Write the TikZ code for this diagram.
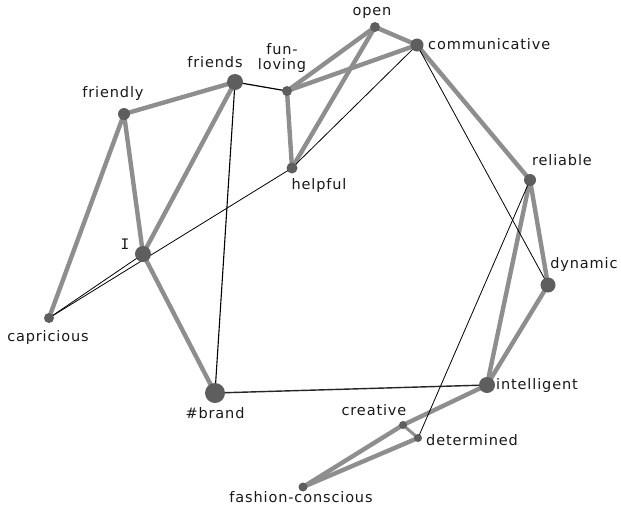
\documentclass[tikz,border=0pt]{standalone}
\usepackage{fontspec}
\setmainfont{DejaVu Sans}[LetterSpace=6]
\newfontfamily\serifI{DejaVu Sans Mono}
\begin{document}
\begin{tikzpicture}[x=1pt,y=-1pt,
  vert/.style={circle,fill=nodegray,draw=none,inner sep=0pt,minimum size=#1},
  vert/.default=10pt,
  lbl/.style={inner sep=0pt,font=\fontsize{14.5}{15.5}\selectfont,text=black!90,align=center},
  strong/.style={draw=edgegray,line width=4.4pt},
  weak/.style={draw=black,line width=0.8pt}]
\definecolor{nodegray}{HTML}{5E5E5E}
\definecolor{edgegray}{HTML}{8E8E8E}
\useasboundingbox (0,0) rectangle (621,509);
\fill[white] (0,0) rectangle (621,509);
% vertices
\coordinate (friends) at (235,82);
\coordinate (friendly) at (124,114);
\coordinate (funloving) at (287,91);
\coordinate (helpful) at (292,168);
\coordinate (open) at (375,27);
\coordinate (comm) at (417,45);
\coordinate (reliable) at (530,180);
\coordinate (dynamic) at (548,285);
\coordinate (I) at (143,254);
\coordinate (capricious) at (49,318);
\coordinate (brand) at (215,393);
\coordinate (intelligent) at (487,385);
\coordinate (creative) at (403,425);
\coordinate (determined) at (418,438);
\coordinate (fashion) at (303,487);
% strong edges
\draw[strong] (friendly) -- (friends);
\draw[strong] (friendly) -- (I);
\draw[strong] (friendly) -- (capricious);
\draw[strong] (friends) -- (I);
\draw[strong] (I) -- (brand);
\draw[strong] (funloving) -- (open);
\draw[strong] (funloving) -- (comm);
\draw[strong] (funloving) -- (helpful);
\draw[strong] (open) -- (helpful);
\draw[strong] (open) -- (comm);
\draw[strong] (comm) -- (reliable);
\draw[strong] (reliable) -- (intelligent);
\draw[strong] (reliable) -- (dynamic);
\draw[strong] (dynamic) -- (intelligent);
\draw[strong] (intelligent) -- (creative);
\draw[strong] (creative) -- (fashion);
\draw[strong] (determined) -- (fashion);
\draw[strong,line width=3pt] (creative) -- (determined);
% weak edges
\draw[weak,line width=1.2pt] (friends) -- (funloving);
\draw[weak,line width=1.1pt] (friends) -- (brand);
\draw[weak,line width=1.4pt,draw=black!85] (brand) -- (intelligent);
\draw[weak] (capricious) -- (I);
\draw[weak] (capricious) -- (helpful);
\draw[weak] (helpful) -- (comm);
\draw[weak] (comm) -- (dynamic);
\draw[weak] (reliable) -- (determined);
% vertex dots
\node[vert=16pt] (vfriends) at (friends) {};
\node[vert=12pt] (vfriendly) at (friendly) {};
\node[vert=10pt] (vfunloving) at (funloving) {};
\node[vert=11pt] (vhelpful) at (helpful) {};
\node[vert=10pt] (vopen) at (open) {};
\node[vert=13pt] (vcomm) at (comm) {};
\node[vert=12pt] (vreliable) at (reliable) {};
\node[vert=15pt] (vdynamic) at (dynamic) {};
\node[vert=16pt] (vI) at (I) {};
\node[vert=10pt] (vcapricious) at (capricious) {};
\node[vert=20pt] (vbrand) at (brand) {};
\node[vert=16pt] (vintelligent) at (intelligent) {};
\node[vert=8pt] (vcreative) at (creative) {};
\node[vert=8pt] (vdetermined) at (determined) {};
\node[vert=9pt] (vfashion) at (fashion) {};
% labels
\node[lbl] (tfriends) at (215,62) {friends};
\node[lbl] (tfriendly) at (113,93) {friendly};
\node[lbl] (tfunloving) at (282,58) {fun-\\loving};
\node[lbl] (topen) at (372,13) {open};
\node[lbl,anchor=west] (tcomm) at (428,44) {communicative};
\node[lbl] (thelpful) at (319,185) {helpful};
\node[lbl] (treliable) at (562,160) {reliable};
\node[lbl] (tdynamic) at (584,264) {dynamic};
\node[lbl] (tI) at (125,244) {\serifI I};
\node[lbl] (tcapricious) at (48,337) {capricious};
\node[lbl] (tbrand) at (215,413) {\#brand};
\node[lbl,anchor=west] (tintelligent) at (496,385) {intelligent};
\node[lbl] (tcreative) at (374,410) {creative};
\node[lbl,anchor=west] (tdetermined) at (426,440) {determined};
\node[lbl] (tfashion) at (301,497) {fashion-conscious};
\end{tikzpicture}
\end{document}
